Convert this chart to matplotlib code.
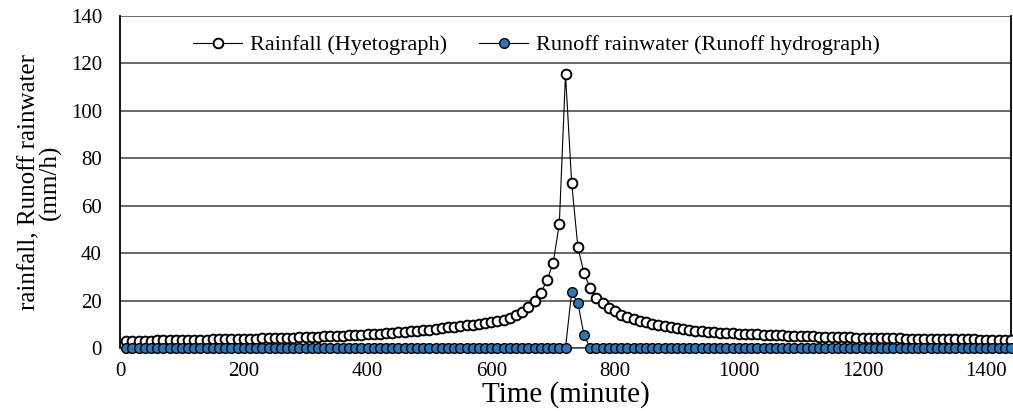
import matplotlib
matplotlib.use("Agg")
import matplotlib.pyplot as plt

plt.rcParams["font.family"] = ["Liberation Serif", "DejaVu Serif"]

# time axis, one value every 10 minutes
minutes = list(range(10, 1441, 10))

# rainfall intensity (mm/h)
rain_left = [
    3.0, 3.0, 3.1, 3.1, 3.1, 3.2, 3.2, 3.2, 3.3, 3.3,
    3.4, 3.4, 3.5, 3.5, 3.6, 3.6, 3.7, 3.7, 3.8, 3.9,
    3.9, 4.0, 4.1, 4.1, 4.2, 4.3, 4.4, 4.4, 4.5, 4.6,
    4.7, 4.8, 4.9, 5.0, 5.1, 5.2, 5.3, 5.5, 5.6, 5.8,
    5.9, 6.1, 6.3, 6.5, 6.7, 6.9, 7.1, 7.3, 7.6, 7.8,
    8.1, 8.4, 8.7, 9.0, 9.3, 9.6, 9.9, 10.2, 10.6, 11.0,
    11.5, 12.0, 12.7, 13.8, 15.2, 17.2, 19.8, 23.2, 28.5, 35.8,
    52.3,
]
rain_peak = [115.5]
rain_right = [
    69.5, 42.5, 31.5, 25.3, 21.1, 18.9, 16.9, 15.4, 14.1, 13.1,
    12.2, 11.5, 10.8, 10.2, 9.7, 9.2, 8.8, 8.4, 7.9, 7.6,
    7.3, 7.1, 6.9, 6.7, 6.5, 6.3, 6.2, 6.0, 5.9, 5.8,
    5.7, 5.6, 5.5, 5.4, 5.3, 5.2, 5.1, 5.0, 4.9, 4.85,
    4.8, 4.7, 4.65, 4.6, 4.5, 4.45, 4.4, 4.35, 4.3, 4.25,
    4.2, 4.15, 4.1, 4.05, 4.0, 3.95, 3.9, 3.85, 3.8, 3.77,
    3.74, 3.71, 3.68, 3.65, 3.62, 3.59, 3.56, 3.53, 3.5, 3.47,
    3.44, 3.4,
]
rainfall = rain_left + rain_peak + rain_right

# runoff (mm/h): zero except the short pulse after the peak
runoff_pulse = {730: 23.7, 740: 18.8, 750: 5.5}
runoff = [runoff_pulse.get(t, 0.0) for t in minutes]

x_ticks = list(range(0, 1401, 200))
y_ticks = list(range(0, 141, 20))

fig = plt.figure(figsize=(10.13, 4.11), dpi=100)
ax = fig.add_axes([120 / 1013, 1 - 348 / 411, 891 / 1013, 332 / 411])

grid_color = "#3f3f3f"
for y in y_ticks:
    ax.axhline(y, color=grid_color, linewidth=1.1, zorder=1)

ax.plot(minutes, rainfall, color="black", linewidth=0.8, marker="o",
        markersize=7.0, markerfacecolor="white", markeredgecolor="black",
        markeredgewidth=1.4, label="Rainfall (Hyetograph)", zorder=3, clip_on=False)
ax.plot(minutes, runoff, color="black", linewidth=0.8, marker="o",
        markersize=7.0, markerfacecolor="#2E75B6", markeredgecolor="black",
        markeredgewidth=1.0, label="Runoff rainwater (Runoff hydrograph)", zorder=4, clip_on=False)

ax.set_xlim(0, 1440)
ax.set_ylim(0, 140)
ax.set_xticks(x_ticks)
ax.set_yticks(y_ticks)
ax.tick_params(axis="both", length=0, labelsize=15)
ax.tick_params(axis="y", pad=13)
ax.tick_params(axis="x", pad=10)

for side in ["left", "right"]:
    ax.spines[side].set_color("black")
    ax.spines[side].set_linewidth(1.3)
ax.spines["top"].set_visible(False)
ax.spines["bottom"].set_color(grid_color)
ax.spines["bottom"].set_linewidth(1.1)

ax.set_xlabel("Time (minute)", fontsize=21, labelpad=0)
ax.set_ylabel("rainfall, Runoff rainwater\n(mm/h)", fontsize=18, labelpad=6,
              linespacing=0.95)

ax.legend(loc="upper left", bbox_to_anchor=(0.061, 1.0), ncol=2, frameon=False,
          fontsize=16, handlelength=2.2, handletextpad=0.36, columnspacing=1.45,
          borderaxespad=0.45, markerscale=1.0)

fig.savefig("out.png", dpi=100)
